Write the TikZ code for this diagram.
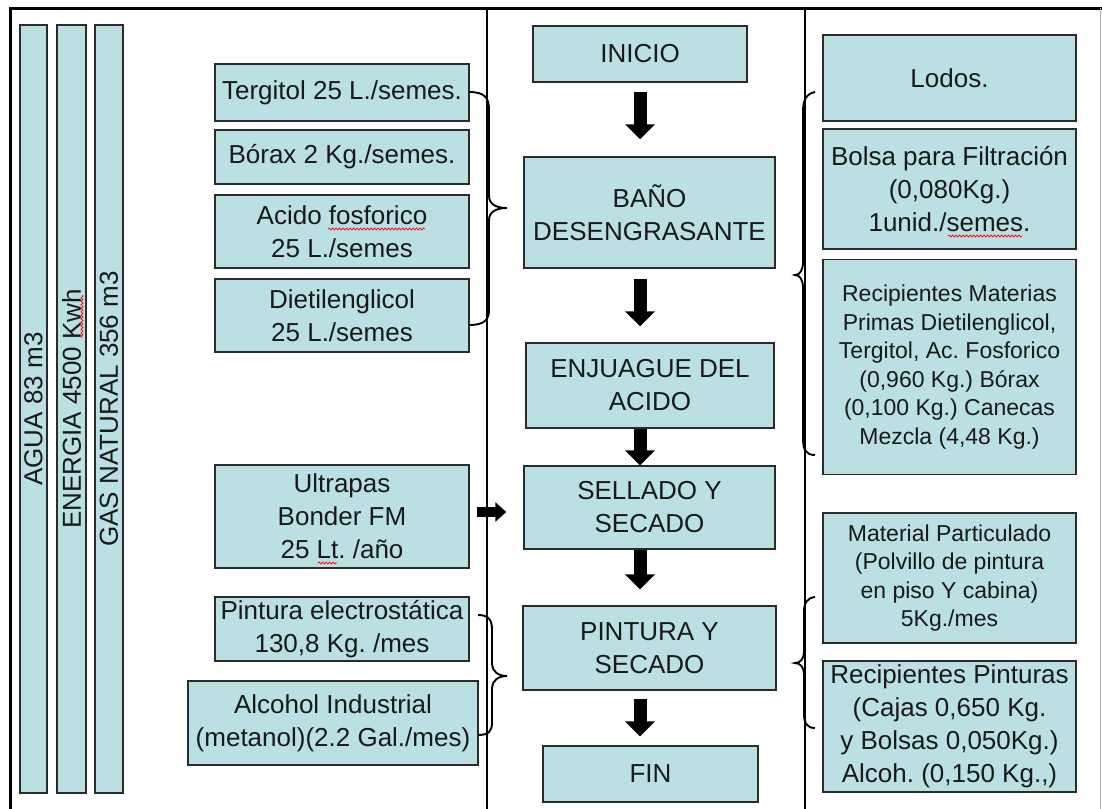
\documentclass[tikz,border=0pt]{standalone}
\usepackage{fontspec}
\setmainfont{Liberation Sans}
\usetikzlibrary{arrows.meta,decorations.pathmorphing}
\definecolor{boxfill}{HTML}{BBE0E3}
\definecolor{boxline}{HTML}{2B2B2B}
\frenchspacing
\begin{document}
\begin{tikzpicture}[x=1pt,y=-1pt,
  box/.style={draw=boxline, fill=boxfill, line width=1.4pt, inner sep=0pt,
    align=center, text=black!90, font=\fontsize{26}{33}\selectfont\frenchspacing},
  smalltext/.style={font=\fontsize{23}{28.6}\selectfont\frenchspacing},
  flow/.style={line width=13pt, -{Triangle[width=29pt,length=15pt]}},
  sideflow/.style={line width=10pt, -{Triangle[width=19pt,length=11pt]}},
  brace/.style={line width=1.9pt, black},
  divider/.style={line width=1.5pt, black},
  spell/.style={red, line width=0.7pt, decorate,
    decoration={snake, amplitude=1.1pt, segment length=3.5pt}}
]
\useasboundingbox (0,0) rectangle (1102,808);
\fill[white] (0,0) rectangle (1102,808);

% outer frame and column dividers
\draw[line width=3pt] (10.5,812) -- (10.5,8.5) -- (1102,8.5);
\draw[gray!60, line width=1pt] (1100,8.5) -- (1100,812);
\draw[divider] (487,8.5) -- (487,812);
\draw[divider] (805,8.5) -- (805,812);

% resources (vertical bars)
\node[box, rotate=90, minimum width=768pt, minimum height=27pt] (agua) at (33.5,409) {AGUA 83 m3};
\node[box, rotate=90, minimum width=768pt, minimum height=29pt] (energia) at (71.5,409) {ENERGIA 4500 Kwh};
\node[box, rotate=90, minimum width=768pt, minimum height=28pt] (gas) at (109,409) {GAS NATURAL 356 m3};

% raw materials
\node[box, minimum width=254pt, minimum height=57pt] (terg) at (342,92.5) {Tergitol 25 L./semes.};
\node[box, minimum width=254pt, minimum height=54pt] (borax) at (342,157) {Bórax 2 Kg./semes.};
\node[box, minimum width=254pt, minimum height=73pt] (acido) at (342,231.5) {Acido fosforico\\25 L./semes};
\node[box, minimum width=254pt, minimum height=73pt] (dietil) at (342,315.5) {Dietilenglicol\\25 L./semes};
\node[box, minimum width=254pt, minimum height=103pt] (ultra) at (342,516.5) {Ultrapas\\Bonder FM\\25 Lt. /año};
\node[box, minimum width=254pt, minimum height=64pt] (pintel) at (342,629) {Pintura electrostática\\130,8 Kg. /mes};
\node[box, minimum width=290pt, minimum height=84pt] (alcohol) at (333,723) {Alcohol Industrial\\(metanol)(2.2 Gal./mes)};

% process steps
\node[box, minimum width=214pt, minimum height=56pt] (inicio) at (640,54) {INICIO};
\node[box, minimum width=251pt, minimum height=111pt] (bano) at (649.5,212.5) {BAÑO\\DESENGRASANTE};
\node[box, minimum width=248pt, minimum height=85pt] (enjuague) at (650,385.5) {ENJUAGUE DEL\\ACIDO};
\node[box, minimum width=251pt, minimum height=83pt] (sellado) at (649.5,507.5) {SELLADO Y\\SECADO};
\node[box, minimum width=253pt, minimum height=84pt] (pintura) at (649.5,648) {PINTURA Y\\SECADO};
\node[box, minimum width=215pt, minimum height=56pt] (fin) at (650.5,774) {FIN};

% residues
\node[box, minimum width=253pt, minimum height=86pt] (lodos) at (949.5,78) {Lodos.};
\node[box, minimum width=253pt, minimum height=120pt] (bolsa) at (949.5,189) {Bolsa para Filtración\\(0,080Kg.)\\1unid./semes.};
\node[box, smalltext, minimum width=253pt, minimum height=215pt] (recmat) at (949.5,367)
  {Recipientes Materias\\Primas Dietilenglicol,\\Tergitol, Ac. Fosforico\\(0,960 Kg.) Bórax\\(0,100 Kg.) Canecas\\Mezcla (4,48 Kg.)};
\node[box, smalltext, minimum width=253pt, minimum height=130pt] (matpart) at (949.5,578)
  {Material Particulado\\(Polvillo de pintura\\en piso Y cabina)\\5Kg./mes};
\node[box, minimum width=253pt, minimum height=131pt] (recpint) at (949.5,726.5)
  {Recipientes Pinturas\\(Cajas 0,650 Kg.\\y Bolsas 0,050Kg.)\\Alcoh. (0,150 Kg.,)};

% flow arrows
\draw[flow] ([yshift=-9pt]inicio.south) -- ([yshift=17pt]inicio.south |- bano.north);
\draw[flow] ([yshift=-10pt]inicio.south |- bano.south) -- ([yshift=16pt]inicio.south |- enjuague.north);
\draw[flow] (inicio.south |- enjuague.south) -- (inicio.south |- sellado.north);
\draw[flow] (inicio.south |- sellado.south) -- ([yshift=16pt]inicio.south |- pintura.north);
\draw[flow] ([yshift=-8pt]inicio.south |- pintura.south) -- ([yshift=9pt]inicio.south |- fin.north);
\draw[sideflow] ([xshift=7pt,yshift=4.5pt]ultra.east) -- ([xshift=-17pt,yshift=-4.5pt]sellado.west);

% braces grouping inputs and outputs
\draw[brace] (469,92) .. controls (485,92) and (489,98) .. (489,110) -- (489,196)
  .. controls (489,204) and (496,208) .. (507,208)
  .. controls (496,208) and (489,212) .. (489,220) -- (489,310)
  .. controls (489,320) and (484,325) .. (469,325);
\draw[brace] (478,615) .. controls (489,615) and (492,620) .. (492,630) -- (492,664)
  .. controls (492,671) and (498,676) .. (507,676)
  .. controls (498,676) and (492,681) .. (492,688) -- (492,722)
  .. controls (492,731) and (489,735) .. (478,735);
\draw[brace] (815,92) .. controls (806,94) and (803,100) .. (803,112) -- (803,262)
  .. controls (803,270) and (800,275) .. (795,275)
  .. controls (800,275) and (803,280) .. (803,288) -- (803,438)
  .. controls (803,450) and (806,455) .. (815,455);
\draw[brace] (815,597) .. controls (807,598) and (804,603) .. (804,612) -- (804,652)
  .. controls (804,659) and (800,663) .. (795,663)
  .. controls (800,663) and (804,667) .. (804,674) -- (804,714)
  .. controls (804,723) and (807,728) .. (815,728);

% spelling marks under words
\draw[spell] (328,229) -- (425,229);
\draw[spell] (948,236) -- (1022,236);
\draw[spell] (82,295) -- (82,338);
\draw[spell] (318,563) -- (337,563);
\end{tikzpicture}
\end{document}
